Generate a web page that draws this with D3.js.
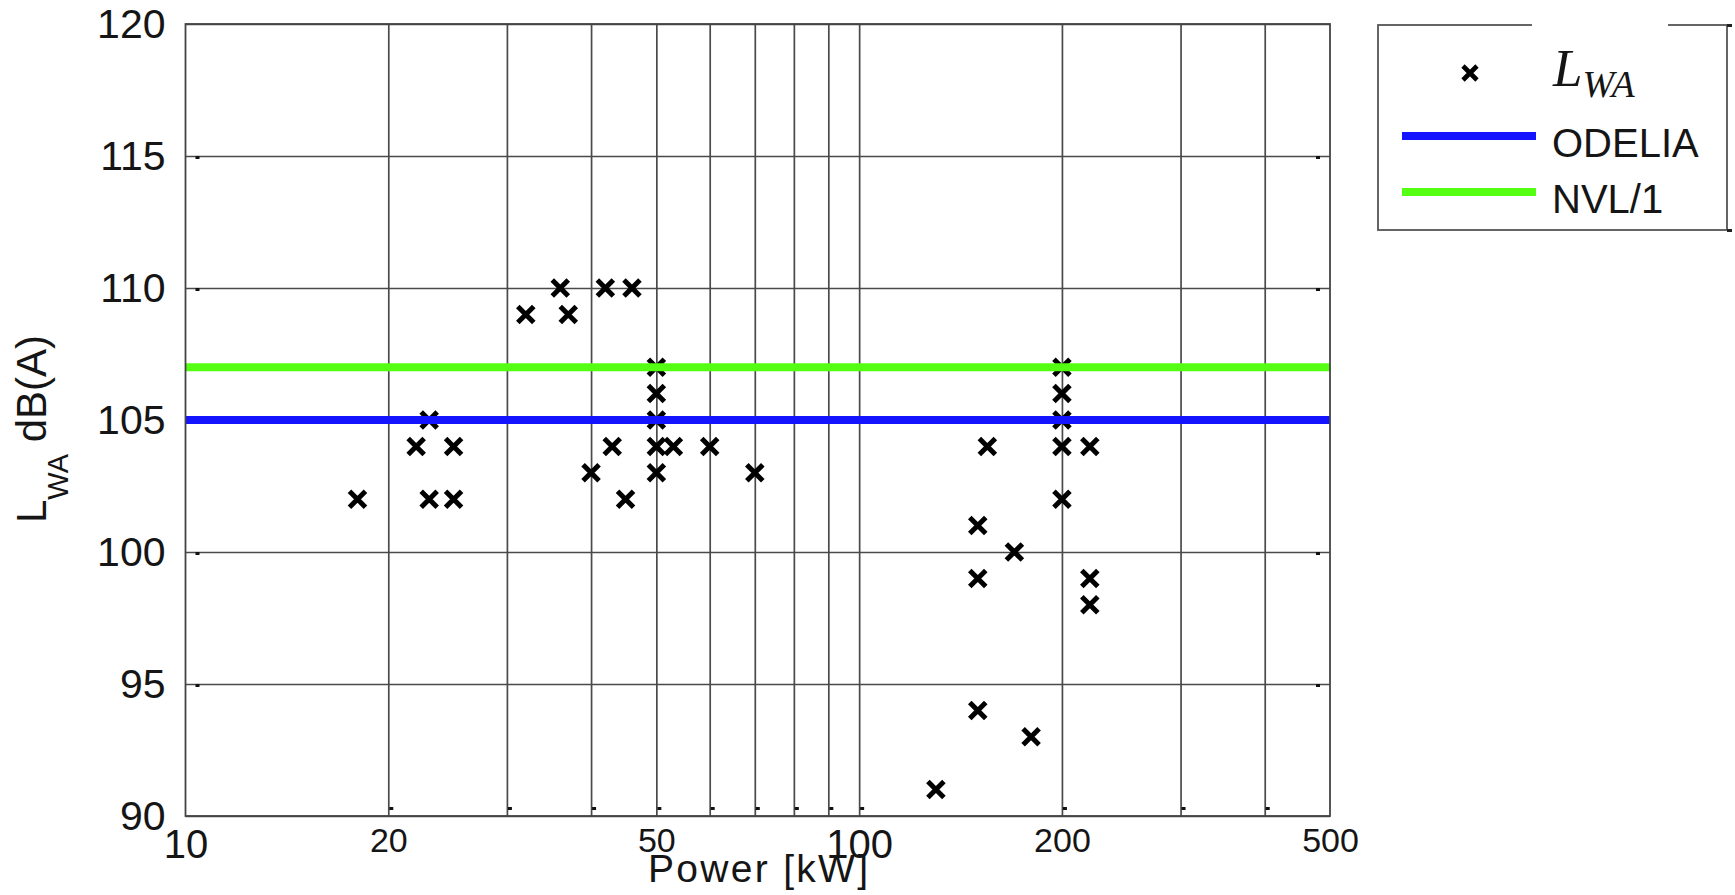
<!DOCTYPE html>
<html>
<head>
<meta charset="utf-8">
<script src="https://cdn.jsdelivr.net/npm/d3@7"></script>
<style>
  body { margin: 0; background: #fff; }
  text { font-family: 'Liberation Sans', Arial, sans-serif; fill: #151515; }
</style>
</head>
<body>
<div id="plot"></div>
<script>
// measured points: power in kW, sound power level in dB(A)
var powerKw = [18, 22, 23, 23, 25, 25, 32, 36, 37, 40, 42, 43, 45, 46, 50, 50, 50, 50, 50, 53, 60, 70,
  130, 150, 150, 150, 155, 170, 180, 200, 200, 200, 200, 200, 220, 220, 220]
var lwaDb = [102, 104, 105, 102, 104, 102, 109, 110, 109, 103, 110, 104, 102, 110, 107, 106, 105, 104, 103, 104, 104, 103,
  91, 101, 99, 94, 104, 100, 93, 107, 106, 105, 104, 102, 104, 99, 98]

var limitNames = ['ODELIA', 'NVL/1']
var limitValues = [105, 107]

var xTickLabels = [10, 20, 50, 100, 200, 500]
var xBigLabels = [10, 100]
var xGridValues = [20, 30, 40, 50, 60, 70, 80, 90, 100, 200, 300, 400]
var yTickValues = [90, 95, 100, 105, 110, 115, 120]

var limitColors = ['#1414ff', '#55ff14']
var gridColor = '#4a4a4a'

var margin = {
  top: 24,
  right: 405,
  bottom: 79,
  left: 185.5
}
var width = 1735 - margin.left - margin.right
var height = 895 - margin.top - margin.bottom

var xScale = d3.scaleLog().domain([10, 500]).range([0, width])
var yScale = d3.scaleLinear().domain([90, 120]).range([height, 0])

function crossPath(h) {
  return 'M' + -h + ',' + -h + 'L' + h + ',' + h + 'M' + -h + ',' + h + 'L' + h + ',' + -h
}

var svg = d3
  .select('#plot')
  .append('svg')
  .attr('width', 1735)
  .attr('height', 895)

var g = svg
  .append('g')
  .attr('transform', 'translate(' + margin.left + ',' + margin.top + ')')

// grid
g.append('g')
  .attr('class', 'grid x')
  .attr('transform', 'translate(0,' + height + ')')
  .call(d3.axisBottom(xScale).tickValues(xGridValues).tickSize(-height).tickFormat(''))
  .call(function(sel) { sel.select('.domain').remove() })
  .selectAll('line')
  .style('stroke', gridColor)
  .style('stroke-width', 1.7)

g.append('g')
  .attr('class', 'grid y')
  .call(d3.axisLeft(yScale).tickValues(yTickValues).tickSize(-width).tickFormat(''))
  .call(function(sel) { sel.select('.domain').remove() })
  .selectAll('line')
  .style('stroke', gridColor)
  .style('stroke-width', 1.7)

// small inside ticks, matlab style
g.append('g')
  .selectAll('rect')
  .data(xGridValues)
  .enter()
  .append('rect')
  .attr('x', function(d) { return xScale(d) + 1 })
  .attr('y', height - 9)
  .attr('width', 4)
  .attr('height', 3)
  .style('fill', '#111')

g.append('g')
  .selectAll('rect')
  .data(yTickValues.slice(1, -1))
  .enter()
  .append('rect')
  .attr('x', 10)
  .attr('y', function(d) { return yScale(d) })
  .attr('width', 4)
  .attr('height', 3)
  .style('fill', '#111')

g.append('g')
  .selectAll('rect')
  .data(yTickValues.slice(1, -1))
  .enter()
  .append('rect')
  .attr('x', width - 14)
  .attr('y', function(d) { return yScale(d) })
  .attr('width', 4)
  .attr('height', 3)
  .style('fill', '#111')

// data markers
g.append('g')
  .attr('class', 'points')
  .selectAll('path')
  .data(powerKw)
  .enter()
  .append('path')
  .attr('transform', function(d, i) {
    return 'translate(' + xScale(d) + ',' + yScale(lwaDb[i]) + ')'
  })
  .attr('d', crossPath(8))
  .style('fill', 'none')
  .style('stroke', '#000')
  .style('stroke-width', 5)

// limit lines
g.append('g')
  .selectAll('line')
  .data(limitValues)
  .enter()
  .append('line')
  .attr('x1', xScale(10))
  .attr('x2', xScale(500))
  .attr('y1', function(d) { return yScale(d) })
  .attr('y2', function(d) { return yScale(d) })
  .style('stroke', function(d, i) { return limitColors[i] })
  .style('stroke-width', 8)

// frame
g.append('rect')
  .attr('width', width)
  .attr('height', height)
  .style('fill', 'none')
  .style('stroke', '#444')
  .style('stroke-width', 1.8)

// tick labels
var xAxis = g
  .append('g')
  .attr('class', 'x axis')
  .attr('transform', 'translate(0,' + height + ')')
  .call(d3.axisBottom(xScale).tickValues(xTickLabels).tickSize(0).tickFormat(d3.format('d')))
xAxis.select('.domain').remove()
xAxis
  .selectAll('text')
  .attr('dy', null)
  .attr('y', function(d) { return xBigLabels.indexOf(d) >= 0 ? 42 : 36 })
  .style('font-size', function(d) { return xBigLabels.indexOf(d) >= 0 ? '40px' : '34px' })
  .style('font-family', "'Liberation Sans', Arial, sans-serif")
  .style('fill', '#151515')

var yAxis = g
  .append('g')
  .attr('class', 'y axis')
  .call(d3.axisLeft(yScale).tickValues(yTickValues).tickSize(0).tickPadding(20))
yAxis.select('.domain').remove()
yAxis
  .selectAll('text')
  .style('font-size', '41px')
  .style('font-family', "'Liberation Sans', Arial, sans-serif")
  .style('fill', '#151515')

// axis titles
svg
  .append('text')
  .attr('x', 758)
  .attr('y', 882)
  .attr('text-anchor', 'middle')
  .attr('textLength', 220)
  .style('font-size', '39px')
  .text('Power [kW]')

var yTitle = svg
  .append('text')
  .attr('transform', 'translate(46,523) rotate(-90)')
  .style('font-size', '42px')
yTitle.append('tspan').text('L')
yTitle.append('tspan').attr('dy', 22).style('font-size', '29px').text('WA')
yTitle.append('tspan').attr('dy', -22).text('\u00a0dB(A)')

// legend
var legend = svg.append('g').attr('class', 'legend')
legend
  .append('rect')
  .attr('x', 1378)
  .attr('y', 25)
  .attr('width', 349)
  .attr('height', 205)
  .style('fill', '#fff')
  .style('stroke', '#555')
  .style('stroke-width', 1.8)
legend
  .append('rect')
  .attr('x', 1532)
  .attr('y', 22)
  .attr('width', 136)
  .attr('height', 6)
  .style('fill', '#fff')
legend
  .append('rect')
  .attr('x', 1727)
  .attr('y', 24)
  .attr('width', 5)
  .attr('height', 3)
  .style('fill', '#222')
legend
  .append('rect')
  .attr('x', 1727)
  .attr('y', 229)
  .attr('width', 5)
  .attr('height', 3)
  .style('fill', '#222')

legend
  .append('path')
  .attr('transform', 'translate(1470,73)')
  .attr('d', crossPath(7))
  .style('fill', 'none')
  .style('stroke', '#000')
  .style('stroke-width', 4.6)

var lwaLabel = legend
  .append('text')
  .attr('x', 1553)
  .attr('y', 86)
  .style('font-family', "'Liberation Serif', 'DejaVu Serif', serif")
  .style('font-style', 'italic')
  .style('font-size', '53px')
lwaLabel.append('tspan').text('L')
lwaLabel.append('tspan').attr('dy', 11).style('font-size', '38px').text('WA')

legend
  .selectAll('.legend-line')
  .data(limitNames)
  .enter()
  .append('line')
  .attr('class', 'legend-line')
  .attr('x1', 1402)
  .attr('x2', 1536)
  .attr('y1', function(d, i) { return 136 + i * 56 })
  .attr('y2', function(d, i) { return 136 + i * 56 })
  .style('stroke', function(d, i) { return limitColors[i] })
  .style('stroke-width', 8)

legend
  .selectAll('.legend-text')
  .data(limitNames)
  .enter()
  .append('text')
  .attr('class', 'legend-text')
  .attr('x', 1552)
  .attr('y', function(d, i) { return 157 + i * 56 })
  .style('font-size', '40px')
  .text(function(d) { return d })
</script>
</body>
</html>
